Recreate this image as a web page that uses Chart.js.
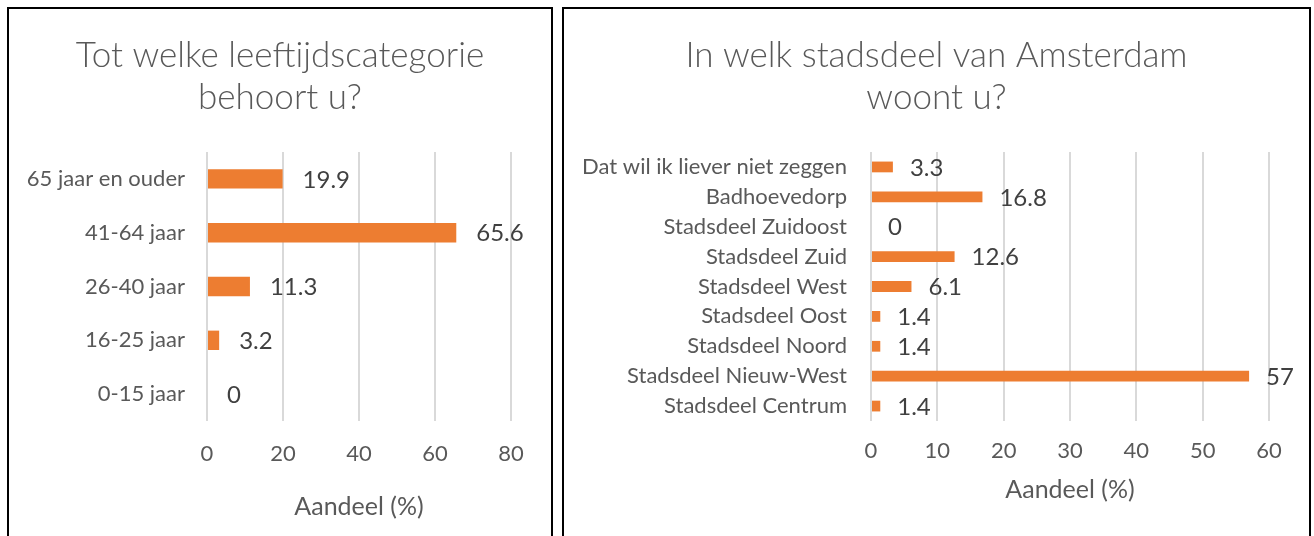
<!DOCTYPE html>
<html>
<head>
<meta charset="utf-8">
<script src="https://cdn.jsdelivr.net/npm/chart.js@4"></script>
<style>
  html, body { margin: 0; padding: 0; background: #fff; overflow: hidden; }
  .panel { position: absolute; top: 7px; border: 2px solid #000; border-bottom: none; box-sizing: border-box; background: #fff; }
  #p1 { left: 7px; width: 546px; height: 529px; }
  #p2 { left: 562px; width: 749px; height: 529px; }
  canvas { display: block; }
</style>
</head>
<body>
<div class="panel" id="p1"><canvas id="ageChart" width="542" height="527"></canvas></div>
<div class="panel" id="p2"><canvas id="districtChart" width="745" height="527"></canvas></div>

<script>
// Data
const ageTitle = ['Tot welke leeftijdscategorie', 'behoort u?'];
const ageLabels = ['65 jaar en ouder', '41-64 jaar', '26-40 jaar', '16-25 jaar', '0-15 jaar'];
const ageValues = [19.9, 65.6, 11.3, 3.2, 0];
const ageTicks = { max: 80, step: 20 };

const districtTitle = ['In welk stadsdeel van Amsterdam', 'woont u?'];
const districtLabels = [
    'Dat wil ik liever niet zeggen', 'Badhoevedorp', 'Stadsdeel Zuidoost', 'Stadsdeel Zuid',
    'Stadsdeel West', 'Stadsdeel Oost', 'Stadsdeel Noord', 'Stadsdeel Nieuw-West', 'Stadsdeel Centrum'
];
const districtValues = [3.3, 16.8, 0, 12.6, 6.1, 1.4, 1.4, 57, 1.4];
const districtTicks = { max: 60, step: 10 };

const axisTitle = 'Aandeel (%)';

const FONT = 'Lato, "Open Sans", sans-serif';
const ORANGE = '#ED7D31';
const GREY = '#595959';

// draws the value next to each bar
const valueLabels = {
    id: 'valueLabels',
    afterDatasetsDraw(chart, args, opts) {
        const ctx = chart.ctx;
        const data = chart.data.datasets[0].data;
        ctx.save();
        ctx.font = '24px ' + FONT;
        ctx.fillStyle = '#404040';
        ctx.textAlign = 'left';
        ctx.textBaseline = 'middle';
        chart.getDatasetMeta(0).data.forEach((bar, i) => {
            ctx.fillText(String(data[i]), bar.x + opts.gap, bar.y + 1);
        });
        ctx.restore();
    }
};

function makeChart(id, title, labels, values, ticks, s) {
    return new Chart(document.getElementById(id), {
        type: 'bar',
        data: {
            labels: labels,
            datasets: [{
                data: values,
                backgroundColor: ORANGE,
                barPercentage: 0.36,
                categoryPercentage: 1
            }]
        },
        options: {
            indexAxis: 'y',
            responsive: false,
            animation: false,
            layout: { padding: 0 },
            plugins: {
                legend: { display: false },
                tooltip: { enabled: false },
                valueLabels: { gap: s.gap },
                title: {
                    display: true,
                    text: title,
                    color: GREY,
                    font: { family: FONT, size: 35, weight: 300, lineHeight: 1.2 },
                    padding: { top: 26, bottom: 33 }
                }
            },
            scales: {
                y: {
                    grid: { display: false },
                    border: { display: false },
                    ticks: { color: GREY, font: { family: FONT, size: 22 }, padding: s.labelPad },
                    afterFit(scale) { scale.width = s.yWidth; }
                },
                // empty right-hand axis, only used as right margin so the title stays centred
                spacer: {
                    type: 'linear',
                    position: 'right',
                    grid: { display: false },
                    border: { display: false },
                    ticks: { display: false },
                    afterFit(scale) { scale.width = 40; }
                },
                x: {
                    min: 0,
                    max: ticks.max,
                    grid: { color: '#D9D9D9', lineWidth: 2, drawTicks: false },
                    border: { display: false },
                    ticks: { stepSize: ticks.step, color: GREY, font: { family: FONT, size: 22 }, padding: s.tickPad },
                    title: {
                        display: true,
                        text: axisTitle,
                        color: GREY,
                        font: { family: FONT, size: 25 },
                        padding: { top: 0, bottom: s.titleBottom }
                    },
                    afterFit(scale) { scale.height = 115; }
                }
            }
        },
        plugins: [valueLabels]
    });
}

makeChart('ageChart', ageTitle, ageLabels, ageValues, ageTicks,
    { yWidth: 198, labelPad: 14, tickPad: 20, titleBottom: 14, gap: 20 });
makeChart('districtChart', districtTitle, districtLabels, districtValues, districtTicks,
    { yWidth: 307, labelPad: 16, tickPad: 17, titleBottom: 31, gap: 17 });
</script>
</body>
</html>
